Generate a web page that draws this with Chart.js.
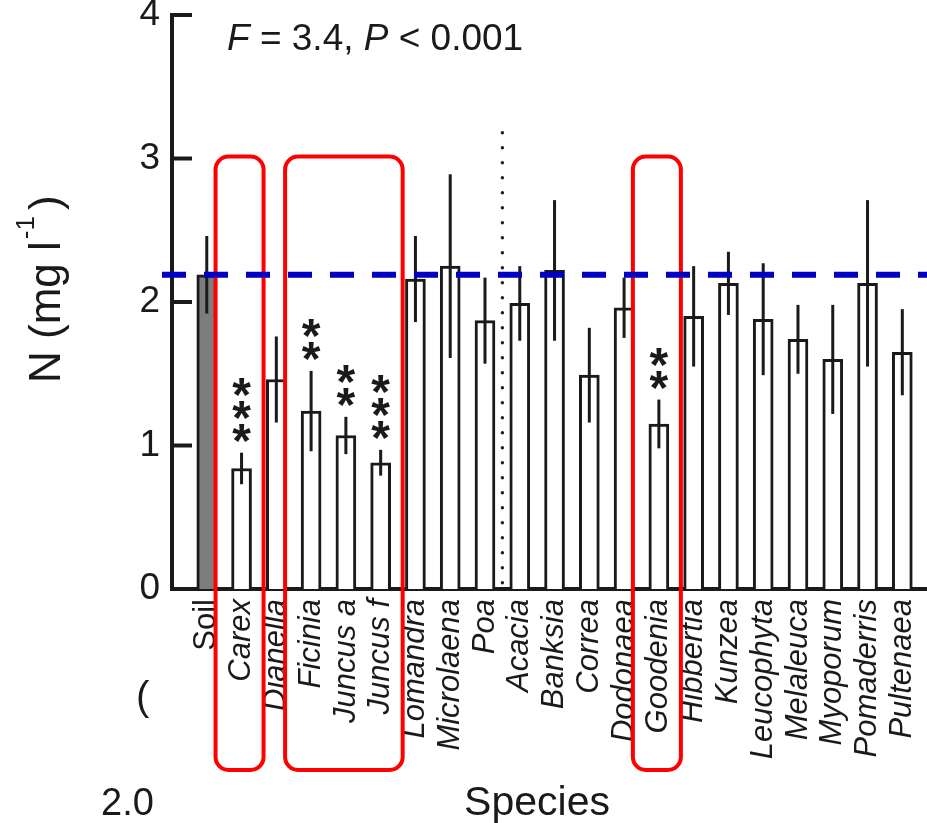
<!DOCTYPE html>
<html>
<head>
<meta charset="utf-8">
<script src="https://cdn.jsdelivr.net/npm/chart.js@4.4.1/dist/chart.umd.min.js"></script>
<style>
  body { margin: 0; background: #fff; }
  canvas { display: block; }
</style>
</head>
<body>
<canvas id="myChart" width="927" height="823"></canvas>
<script>
var species = ["Soil","Carex","Dianella","Ficinia","Juncus a","Juncus f","Lomandra","Microlaena","Poa",
  "Acacia","Banksia","Correa","Dodonaea","Goodenia","Hibbertia","Kunzea","Leucophyta","Melaleuca",
  "Myoporum","Pomaderris","Pultenaea"];
var means = [2.19,0.84,1.46,1.24,1.07,0.88,2.16,2.25,1.87,1.99,2.22,1.49,1.96,1.15,1.90,2.13,1.88,1.74,1.60,2.13,1.65];
var errs  = [0.27,0.11,0.30,0.28,0.13,0.09,0.30,0.64,0.30,0.26,0.49,0.33,0.21,0.17,0.35,0.22,0.39,0.24,0.38,0.58,0.30];
var stars = [0,3,0,2,2,3,0,0,0,0,0,0,0,2,0,0,0,0,0,0,0];
var yTicks = [0,1,2,3,4];
// highlighted groups (first, last species)
var boxes = [["Carex","Carex"],["Ficinia","Juncus f"],["Goodenia","Goodenia"]];

var FONT = "'Liberation Sans', Arial, Helvetica, sans-serif";
var ink = "#1a1a1a";

var points = species.map(function(s, i) { return {x: i + 1, y: means[i]}; });

function noPad(s) {
  s.paddingLeft = 0; s.paddingRight = 0; s.paddingTop = 0; s.paddingBottom = 0;
}

// error bars, asterisks, reference lines, boxes and texts
var extras = {
  id: 'extras',
  afterDraw: function(chart) {
    var ctx = chart.ctx, xs = chart.scales.x, ys = chart.scales.y, area = chart.chartArea;
    ctx.save();

    // inward ticks on y axis
    ctx.strokeStyle = ink; ctx.lineWidth = 4;
    yTicks.forEach(function(t) {
      var y = ys.getPixelForValue(t);
      ctx.beginPath(); ctx.moveTo(area.left, y); ctx.lineTo(area.left + 20, y); ctx.stroke();
    });

    // error bars
    ctx.lineWidth = 3;
    means.forEach(function(m, i) {
      var x = xs.getPixelForValue(i + 1);
      ctx.beginPath();
      ctx.moveTo(x, ys.getPixelForValue(m + errs[i]));
      ctx.lineTo(x, ys.getPixelForValue(m - errs[i]));
      ctx.stroke();
    });

    // asterisks
    ctx.fillStyle = ink;
    ctx.font = "bold 48px " + FONT;
    ctx.textAlign = 'center'; ctx.textBaseline = 'alphabetic';
    stars.forEach(function(n, i) {
      var x = xs.getPixelForValue(i + 1);
      var top = ys.getPixelForValue(means[i] + errs[i]);
      for (var k = 0; k < n; k++) {
        var cy = top - 24 - k * 23;
        ctx.fillText('*', x, cy + 28);
      }
    });

    // dotted separator between Poa and Acacia
    ctx.strokeStyle = '#222'; ctx.lineWidth = 3.5; ctx.lineCap = 'round';
    ctx.setLineDash([0, 15]);
    var dx = xs.getPixelForValue(9.5);
    ctx.beginPath(); ctx.moveTo(dx, ys.getPixelForValue(3.18)); ctx.lineTo(dx, area.bottom - 4); ctx.stroke();
    ctx.setLineDash([]); ctx.lineCap = 'butt';

    // red boxes
    ctx.strokeStyle = '#ff0000'; ctx.lineWidth = 4;
    boxes.forEach(function(b) {
      var l = xs.getPixelForValue(species.indexOf(b[0]) + 1) - 26;
      var r = xs.getPixelForValue(species.indexOf(b[1]) + 1) + 22;
      var t = ys.getPixelForValue(3) - 2;
      var btm = area.bottom + 181;
      ctx.beginPath(); ctx.roundRect(l, t, r - l, btm - t, 13); ctx.stroke();
    });

    // blue dashed soil level
    ctx.strokeStyle = '#0000c4'; ctx.lineWidth = 6;
    ctx.setLineDash([24, 18]);
    var by = ys.getPixelForValue(means[0]);
    ctx.beginPath(); ctx.moveTo(area.left - 10, by); ctx.lineTo(chart.width, by); ctx.stroke();
    ctx.setLineDash([]);

    // statistics text
    ctx.fillStyle = ink; ctx.textAlign = 'left'; ctx.textBaseline = 'alphabetic';
    var parts = [["F", true], [" = 3.4, ", false], ["P", true], [" < 0.001", false]];
    var tx = 227;
    parts.forEach(function(p) {
      ctx.font = (p[1] ? "italic " : "") + "37px " + FONT;
      ctx.fillText(p[0], tx, 50);
      tx += ctx.measureText(p[0]).width;
    });

    // y axis title with superscript
    ctx.save();
    ctx.translate(60, 383); ctx.rotate(-Math.PI / 2);
    ctx.font = "44px " + FONT;
    ctx.fillText("N (mg l", 0, 0);
    var w = ctx.measureText("N (mg l").width;
    ctx.font = "26px " + FONT;
    ctx.fillText("-1", w + 2, -26);
    var w2 = ctx.measureText("-1").width;
    ctx.font = "44px " + FONT;
    ctx.fillText(")", w + w2 + 8, 0);
    ctx.restore();

    // x axis title
    ctx.font = "41px " + FONT; ctx.textAlign = 'center';
    ctx.fillText("Species", 537, 815);

    // stray fragments at left
    ctx.textAlign = 'left';
    ctx.font = "38px " + FONT;
    ctx.fillText("2.0", 101, 815);
    ctx.save();
    ctx.beginPath(); ctx.rect(0, 650, 152, 100); ctx.clip();
    ctx.font = "40px " + FONT;
    ctx.fillText("(", 136, 710);
    ctx.restore();

    ctx.restore();
  }
};

var ctx = document.getElementById("myChart").getContext("2d");
var myChart = new Chart(ctx, {
  type: 'bar',
  data: {
    datasets: [{
      data: points,
      backgroundColor: species.map(function(s, i) { return i === 0 ? '#7d7d7d' : '#ffffff'; }),
      borderColor: ink,
      borderWidth: 3,
      barThickness: 20
    }]
  },
  options: {
    responsive: false,
    animation: false,
    layout: { padding: { left: 0, right: 0, top: 15, bottom: 0 }, autoPadding: false },
    plugins: { legend: { display: false }, tooltip: { enabled: false } },
    scales: {
      x: {
        type: 'linear', min: 0, max: 21.71, offset: false,
        grid: { display: false, drawTicks: false },
        border: { display: true, width: 4, color: ink },
        ticks: {
          stepSize: 1, autoSkip: false, maxRotation: 90, minRotation: 90,
          includeBounds: false, maxTicksLimit: 40, padding: 10, color: ink,
          font: function(c) {
            var v = c.tick ? c.tick.value : 0;
            return { family: FONT, size: 31, style: v === 1 ? 'normal' : 'italic' };
          },
          callback: function(v) { return Number.isInteger(v) ? (species[v - 1] || '') : ''; }
        },
        afterFit: function(s) { s.height = 234; noPad(s); }
      },
      y: {
        min: 0, max: 4,
        grid: { display: false, drawTicks: false },
        border: { display: true, width: 4, color: ink },
        ticks: { stepSize: 1, padding: 12, color: ink, font: { family: FONT, size: 37 } },
        afterFit: function(s) { s.width = 172; noPad(s); }
      }
    }
  },
  plugins: [extras]
});
</script>
</body>
</html>
